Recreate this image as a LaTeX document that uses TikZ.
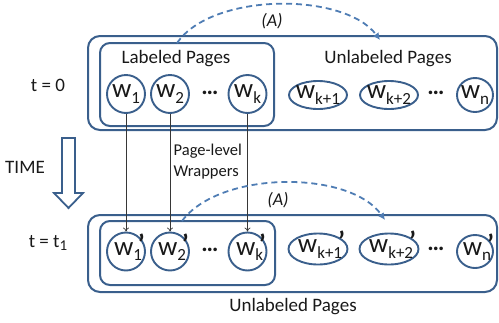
\documentclass[tikz,border=0pt]{standalone}
\usepackage{fontspec}
\setmainfont{Carlito}
\usepackage{tikz}
\usetikzlibrary{backgrounds,shapes.geometric,arrows.meta}
\definecolor{boxblue}{RGB}{58,95,140}
\definecolor{arcblue}{RGB}{79,125,180}
\definecolor{wiregray}{RGB}{55,55,55}
\definecolor{txt}{RGB}{25,25,25}
% page labels: w with subscript, and the primed version after one time step
\newcommand{\wpg}[1]{w\raisebox{-0.45ex}{\fontsize{17}{17}\selectfont #1}}
\newcommand{\wpgp}[1]{w\raisebox{-0.45ex}{\fontsize{17}{17}\selectfont #1}\hspace{-0.15em}\rlap{\smash{\raisebox{0.15ex}{\bfseries’}}}}
% ellipse labels keep the ellipse at its own size
\newcommand{\ellab}[1]{\makebox[0pt]{#1}}

\begin{document}
\begin{tikzpicture}[x=1pt,y=-1pt,thick,every node/.style={text=txt}]
        %
        % `page' is used for the wrapper circles, `unlabeled' for the ellipses.
        % `outerbox' and `innerbox' are the rounded frames.
        \tikzstyle{page} = [draw=boxblue,line width=1.9pt,fill=white,circle,inner sep=0pt,minimum size=38pt,font=\fontsize{27}{27}\selectfont]
        \tikzstyle{unlabeled} = [draw=boxblue,line width=1.9pt,fill=white,ellipse,inner sep=0pt,font=\fontsize{27}{27}\selectfont]
        \tikzstyle{outerbox} = [draw=boxblue,line width=2pt,rounded corners=12pt]
        \tikzstyle{innerbox} = [draw=boxblue,line width=2pt,rounded corners=10pt]
        \tikzstyle{wrapper} = [draw=wiregray,line width=0.7pt,-{To[length=4pt,width=6pt]}]
        \tikzstyle{move} = [draw=arcblue,line width=1.8pt,dash pattern=on 6pt off 4pt,-{Latex[length=7pt,width=7pt]}]
        \tikzstyle{label} = [font=\fontsize{19}{19}\selectfont]
        \tikzstyle{dots} = [font=\fontsize{24}{24}\selectfont\bfseries]
        \useasboundingbox (0,0) rectangle (499,322);
        %
        % Frames
        \node[outerbox,minimum width=409pt,minimum height=94pt] (top) at (292.5,83) {};
        \node[innerbox,minimum width=174pt,minimum height=83pt] (labeled) at (187,84.5) {};
        \node[outerbox,minimum width=409pt,minimum height=77pt] (bottom) at (292.5,253.5) {};
        \node[innerbox,minimum width=175pt,minimum height=64pt] (labeledb) at (187.5,253) {};
        %
        % Row t = 0
        \node[label] (t0) at (48,85) {t = 0};
        \node[label] (lab) at (176,59) {Labeled Pages};
        \node[label] (unlab) at (388,59) {Unlabeled Pages};
        \node[page] (w1) at (126,94) {\wpg{1}};
        \node[page] (w2) at (170,94) {\wpg{2}};
        \node[dots] (dots1) at (210,93) {\dots};
        \node[page] (wk) at (247.5,94) {\wpg{k}};
        \node[unlabeled,minimum width=58pt,minimum height=28pt] (wk1) at (318,95) {\ellab{\wpg{k+1}}};
        \node[unlabeled,minimum width=58pt,minimum height=28pt] (wk2) at (389,95) {\ellab{\wpg{k+2}}};
        \node[dots] (dots2) at (436,93) {\dots};
        \node[unlabeled,minimum width=36pt,minimum height=34pt] (wn) at (475,95) {\ellab{\wpg{n}}};
        %
        % Time step
        \node[label] (time) at (25,167) {TIME};
        \draw[draw=boxblue,line width=1.8pt,fill=white] (62,138) -- (75,138) -- (75,193) -- (83,193)
            -- (68.5,208) -- (54,193) -- (62,193) -- cycle;
        \node[font=\fontsize{16.5}{21}\selectfont,align=left,anchor=west] (wrap) at (170,162) {Page-level\\Wrappers};
        %
        % Row t = t1
        \node[label] (t1) at (48,243) {t = t\raisebox{-0.4ex}{\fontsize{15}{15}\selectfont 1}};
        \node[page] (w1b) at (126,251.5) {\wpgp{1}};
        \node[page] (w2b) at (170,251.5) {\wpgp{2}};
        \node[dots] (dots3) at (210,250) {\dots};
        \node[page] (wkb) at (247.5,251.5) {\wpgp{k}};
        \node[unlabeled,minimum width=59pt,minimum height=31pt] (wk1b) at (318,249) {\ellab{\wpgp{k+1}}};
        \node[unlabeled,minimum width=59pt,minimum height=31pt] (wk2b) at (389,249) {\ellab{\wpgp{k+2}}};
        \node[dots] (dots4) at (436,249) {\dots};
        \node[unlabeled,minimum width=36pt,minimum height=33pt] (wnb) at (475,251.5) {\ellab{\wpgp{n}}};
        \node[label] (unlabb) at (293,307) {Unlabeled Pages};
        %
        % Wrappers carried to the next step
        \draw[wrapper] (w1) -- (w1b);
        \draw[wrapper] (w2) -- (w2b);
        \draw[wrapper] (wk) -- (wkb);
        %
        % Pages moved to the unlabeled set (A)
        \coordinate (a0) at (177,43);
        \coordinate (a1) at (380,40);
        \draw[move] (a0) .. controls (212,-8) and (345,-8) .. (a1);
        \node[font=\fontsize{18}{18}\selectfont\itshape] (A) at (272,21) {(A)};
        \coordinate (b0) at (182,221);
        \coordinate (b1) at (385,220);
        \draw[move] (b0) .. controls (220,170) and (350,170) .. (b1);
        \node[font=\fontsize{18}{18}\selectfont\itshape] (Ab) at (278,200) {(A)};
        %
\end{tikzpicture}
\end{document}
